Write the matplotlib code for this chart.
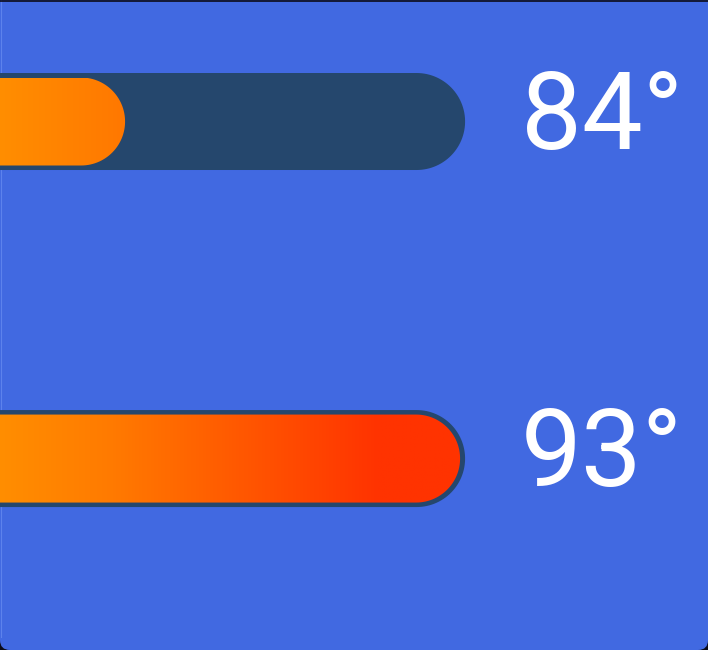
import numpy as np
import matplotlib
matplotlib.use('Agg')
import matplotlib.pyplot as plt
from matplotlib.patches import FancyBboxPatch, Polygon
from matplotlib.colors import LinearSegmentedColormap, Normalize

# data
temps = [84, 93]
labels = ['84°', '93°']
scale_min = 78      # track start (off the left edge)
scale_max = 93

bg_color = '#4169e1'
track_color = '#25476d'
cmap = LinearSegmentedColormap.from_list(
    'heat', [(0, '#ff8e00'), (0.3, '#ff7a00'), (1, '#ff3300')])
norm = Normalize(80.6, 90.8)

W, H = 708, 650
fig = plt.figure(figsize=(W / 100, H / 100), dpi=100)
fig.patch.set_facecolor('#0b0b18')

# card background, rounded bottom corners
card = FancyBboxPatch((0, 0), 1, 1.1, boxstyle='round,pad=0,rounding_size=%f' % (10 / W),
                      mutation_aspect=W / H, transform=fig.transFigure,
                      facecolor=bg_color, edgecolor='none', zorder=-2)
fig.patches.append(card)
fig.add_artist(plt.Line2D([0.5 / W, 0.5 / W], [0.02, 1], transform=fig.transFigure,
                          color='#5d82ec', lw=0.8, zorder=-1))
fig.add_artist(plt.Line2D([1 - 0.5 / W, 1 - 0.5 / W], [0.02, 1], transform=fig.transFigure,
                          color='#5d82ec', lw=0.8, zorder=-1))
fig.add_artist(plt.Line2D([0, 1], [1 - 0.5 / H, 1 - 0.5 / H], transform=fig.transFigure,
                          color='#0b0b18', lw=1.2, zorder=-1))

xlo, xhi = 80.64, 99.66
ylo, yhi = 1.568, -0.3605
ax = fig.add_axes([0, 0, 1, 1])
ax.set_facecolor('none')
ax.axis('off')

px_x = (xhi - xlo) / W          # degrees per pixel
px_y = (ylo - yhi) / H          # rows per pixel


def capsule(x0, x1, yc, h_px):
    # stadium shape in data coords, round caps that are circles in pixels
    r = h_px / 2
    a = np.linspace(-np.pi / 2, np.pi / 2, 60)
    cx1 = x1 - r * px_x
    cx0 = x0 + r * px_x
    right = np.column_stack([cx1 + r * px_x * np.cos(a), yc + r * px_y * np.sin(a)])
    left = np.column_stack([cx0 - r * px_x * np.cos(a), yc - r * px_y * np.sin(a)])
    return np.vstack([right, left])


pad = 5 * px_x
for i, t in enumerate(temps):
    track = Polygon(capsule(scale_min - pad, scale_max + pad, i, 97), closed=True,
                    facecolor=track_color, edgecolor='none', zorder=1)
    ax.add_patch(track)

    fill = Polygon(capsule(scale_min, t, i, 88), closed=True,
                   facecolor='none', edgecolor='none', zorder=2)
    ax.add_patch(fill)
    xs = np.linspace(scale_min, t, 400)
    grad = cmap(norm(xs))[np.newaxis, :, :3]
    fh = 88 * px_y
    im = ax.imshow(grad, extent=(scale_min, t, i + fh / 2, i - fh / 2),
                   aspect='auto', interpolation='bilinear', zorder=2)
    im.set_clip_path(fill)

    ax.text(xlo + 521 * px_x, i + 27 * px_y, labels[i], color='white',
            fontsize=78, family=['Roboto', 'DejaVu Sans'], ha='left', va='baseline', zorder=3)

ax.set_xlim(xlo, xhi)
ax.set_ylim(ylo, yhi)

plt.savefig('out.png', dpi=100, facecolor=fig.get_facecolor())
